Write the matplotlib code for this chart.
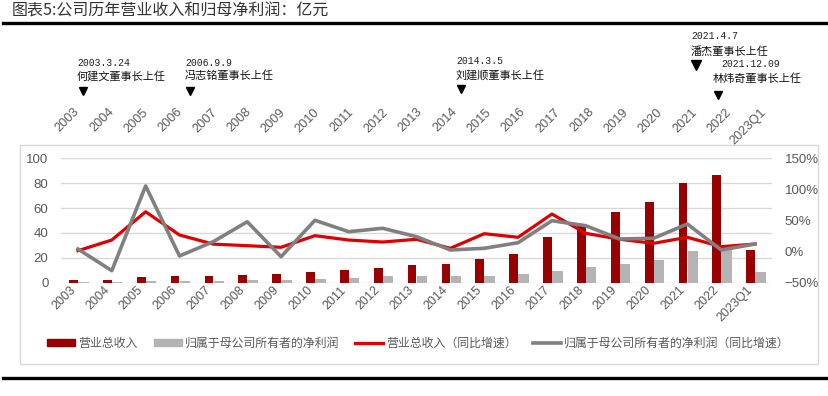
import numpy as np
import matplotlib
matplotlib.use("Agg")
import matplotlib.pyplot as plt
from matplotlib.patches import Rectangle, Patch
from matplotlib.lines import Line2D
from matplotlib.ticker import FuncFormatter

plt.rcParams['font.family'] = ['Noto Sans CJK SC', 'DejaVu Sans']

# ---------------- data ----------------
categories = ['2003', '2004', '2005', '2006', '2007', '2008', '2009', '2010', '2011', '2012',
              '2013', '2014', '2015', '2016', '2017', '2018', '2019', '2020', '2021', '2022', '2023Q1']
revenue = [2.2, 2.2, 4.6, 5.3, 5.7, 6.4, 7.0, 8.9, 10.2, 11.8,
           14.2, 15.0, 18.8, 23.0, 37.0, 47.0, 57.0, 64.9, 79.9, 86.6, 26.5]
net_profit = [0.8, 0.6, 1.3, 1.4, 1.6, 2.0, 1.9, 2.9, 3.8, 5.0,
              5.6, 5.6, 5.6, 7.0, 9.4, 12.6, 14.8, 18.0, 25.7, 26.0, 8.8]
revenue_yoy = [1.4, 18.6, 64.0, 26.7, 12.0, 9.5, 6.9, 25.6, 18.6, 15.4,
               19.8, 5.3, 28.8, 23.0, 60.4, 29.4, 19.8, 13.3, 23.0, 7.9, 12.2]
profit_yoy = [4.2, -30.7, 105.5, -7.0, 16.0, 48.0, -8.2, 50.3, 32.0, 37.5,
              24.0, 2.6, 5.3, 14.3, 49.7, 41.6, 20.3, 21.4, 44.4, 2.6, 12.2]
left_ticks = [0, 20, 40, 60, 80, 100]
right_ticks = [-50, 0, 50, 100, 150]

events_date = ['2003.3.24', '2006.9.9', '2014.3.5', '2021.4.7', '2021.12.09']
events_text = ['何建文董事长上任', '冯志铭董事长上任', '刘建顺董事长上任', '潘杰董事长上任', '林炜奇董事长上任']

title = '图表5:公司历年营业收入和归母净利润：亿元'
legend_labels = ['营业总收入', '归属于母公司所有者的净利润', '营业总收入（同比增速）',
                 '归属于母公司所有者的净利润（同比增速）']

# ---------------- styles ----------------
W, H = 829, 396
C_RED_BAR = '#990000'
C_GRAY_BAR = '#B4B4B4'
C_RED_LINE = '#E00000'
C_GRAY_LINE = '#808080'
C_TICK = '#595959'
C_GRID = '#D9D9D9'


def fx(x):
    return x / W


def fy(y):
    return 1 - y / H


fig = plt.figure(figsize=(W / 100, H / 100), dpi=100)

# title and rules
fig.text(fx(12), fy(11), title, fontsize=11.5, color='#333333', va='center', ha='left')
fig.add_artist(Line2D([fx(3), fx(829)], [fy(22.7), fy(22.7)], color='black', lw=2.4,
                      transform=fig.transFigure))
fig.add_artist(Line2D([fx(3), fx(829)], [fy(378), fy(378)], color='black', lw=2.4,
                      transform=fig.transFigure))

# chart frame
fig.patches.append(Rectangle((fx(20), fy(364)), fx(818) - fx(20), fy(145) - fy(364),
                             transform=fig.transFigure, fill=False, ec=C_GRID, lw=1))

# main axes
ax_l, ax_r, ax_t, ax_b = 61, 772, 158.3, 282.7
ax = fig.add_axes([fx(ax_l), fy(ax_b), fx(ax_r) - fx(ax_l), fy(ax_t) - fy(ax_b)])
x = np.arange(len(categories))
ax.bar(x - 0.13, revenue, width=0.26, color=C_RED_BAR, zorder=2)
ax.bar(x + 0.16, net_profit, width=0.31, color=C_GRAY_BAR, zorder=2)
ax.set_xlim(-0.5, len(categories) - 0.5)
ax.set_ylim(0, 100)
ax.set_yticks(left_ticks)
ax.set_xticks(x)
ax.set_xticklabels(categories, rotation=45, ha='right', rotation_mode='default')
ax.tick_params(axis='both', length=0, colors=C_TICK, labelsize=9.5)
ax.tick_params(axis='x', pad=1, labelsize=9)
ax.tick_params(axis='y', pad=9)
for lab in ax.get_xticklabels() + ax.get_yticklabels():
    lab.set_family(['Liberation Sans', 'DejaVu Sans'])
ax.grid(axis='y', color=C_GRID, lw=1, zorder=0)
ax.set_axisbelow(True)
for s in ax.spines.values():
    s.set_visible(False)
ax.patch.set_alpha(0)

ax2 = ax.twinx()
ax2.plot(x, revenue_yoy, color=C_RED_LINE, lw=2.3, zorder=3)
ax2.plot(x, profit_yoy, color=C_GRAY_LINE, lw=2.6, zorder=4)
ax2.set_ylim(-50, 150)
ax2.set_yticks(right_ticks)
ax2.yaxis.set_major_formatter(FuncFormatter(lambda v, p: f'{v:.0f}%'.replace('-', '−')))
ax2.tick_params(axis='y', length=0, colors=C_TICK, labelsize=9.5, pad=9)
for lab in ax2.get_yticklabels():
    lab.set_family(['Liberation Sans', 'DejaVu Sans'])
for s in ax2.spines.values():
    s.set_visible(False)

# top year labels row (separate pasted axis in the original)
top_step = 34.3
for i, c in enumerate(categories):
    fig.text(fx(82 + top_step * i), fy(106), c, rotation=45, ha='right', va='top',
             fontsize=9.2, color=C_TICK, family=['Liberation Sans', 'DejaVu Sans'])

# chairman events
ev_date_pos = [(77, 63), (185, 63), (456, 61), (691, 36), (721, 64)]
ev_text_pos = [(77, 76), (185, 76), (456, 75), (691, 51), (713, 79)]
ev_tri_pos = [(83, 91), (190, 91), (461, 89), (696, 65), (718, 95)]
for d, t, (dx, dy), (tx, ty), (mx, my) in zip(events_date, events_text, ev_date_pos,
                                              ev_text_pos, ev_tri_pos):
    fig.text(fx(dx), fy(dy), d, fontsize=7, ha='left', va='center', color='#222222',
             family=['Liberation Mono', 'DejaVu Sans Mono'])
    fig.text(fx(tx), fy(ty), t, fontsize=8, ha='left', va='center', color='#111111')
    fig.add_artist(Line2D([fx(mx)], [fy(my)], marker='v', markersize=6.5 if my == 65 else 5.5,
                          color='black', transform=fig.transFigure, lw=0))

# legend
handles = [Patch(color=C_RED_BAR), Patch(color=C_GRAY_BAR),
           Line2D([], [], color=C_RED_LINE, lw=2.3), Line2D([], [], color=C_GRAY_LINE, lw=2.6)]
leg = fig.legend(handles, legend_labels, loc='center', bbox_to_anchor=(fx(418.5), fy(343)),
                 ncol=4, frameon=False, fontsize=8.6, handlelength=2.35, handleheight=0.55,
                 handletextpad=0.25, columnspacing=1.35, labelcolor=C_TICK,
                 borderpad=0, borderaxespad=0)

fig.savefig('out.png', dpi=100)
